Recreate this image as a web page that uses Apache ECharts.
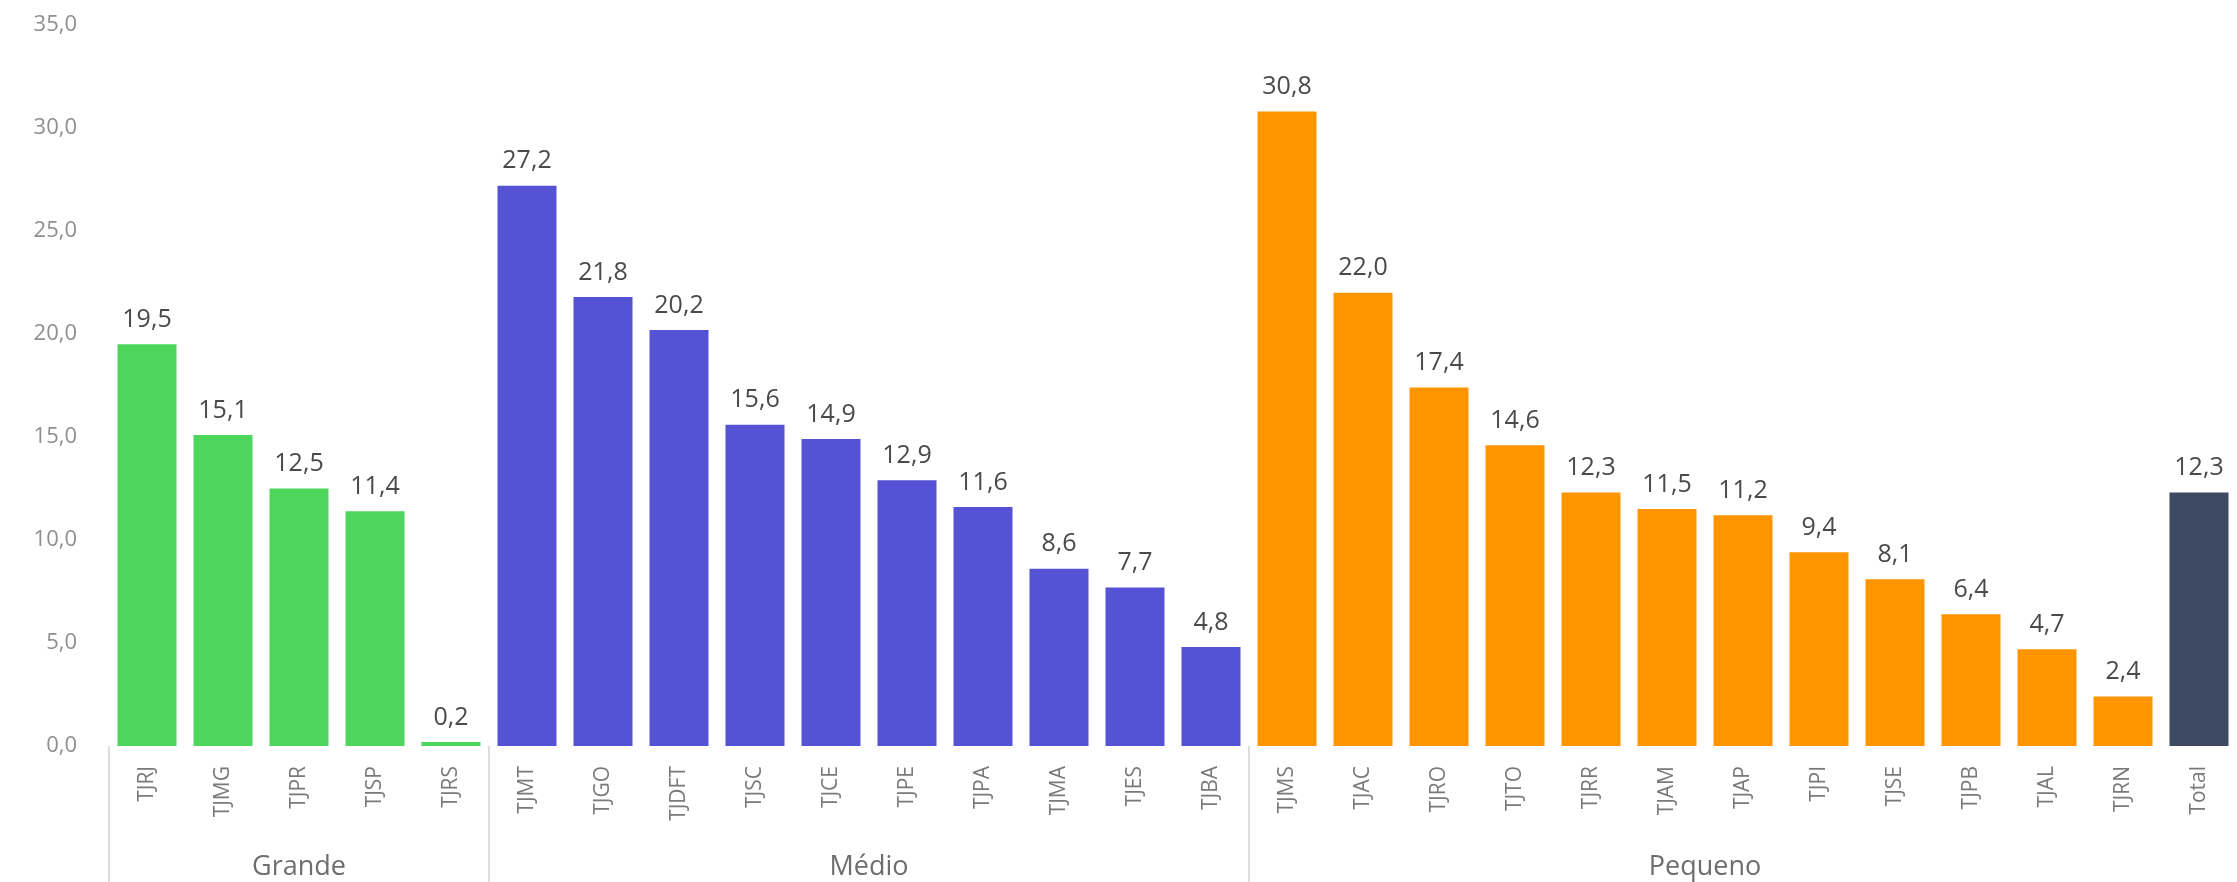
<!DOCTYPE html>
<html>
<head>
<meta charset="utf-8">
<script src="https://cdn.jsdelivr.net/npm/echarts@6/dist/echarts.min.js"></script>
<style>
html,body{margin:0;padding:0;background:#fff;}
#chart{width:2237px;height:882px;}
</style>
</head>
<body>
<div id="chart"></div>
<script>
// ---- data ----
var categories = ['TJRJ','TJMG','TJPR','TJSP','TJRS',
  'TJMT','TJGO','TJDFT','TJSC','TJCE','TJPE','TJPA','TJMA','TJES','TJBA',
  'TJMS','TJAC','TJRO','TJTO','TJRR','TJAM','TJAP','TJPI','TJSE','TJPB','TJAL','TJRN',
  'Total'];
var values = [19.5, 15.1, 12.5, 11.4, 0.2,
  27.2, 21.8, 20.2, 15.6, 14.9, 12.9, 11.6, 8.6, 7.7, 4.8,
  30.8, 22.0, 17.4, 14.6, 12.3, 11.5, 11.2, 9.4, 8.1, 6.4, 4.7, 2.4,
  12.3];
var groupNames = ['Grande', 'Médio', 'Pequeno', ''];
var groupSizes = [5, 10, 12, 1];
var groupColors = ['#4cd75c', '#5552d6', '#ff9500', '#3e4a61'];
var yTicks = [0, 5, 10, 15, 20, 25, 30, 35];

// ---- derived ----
var itemColors = [];
var boundaries = [];
var centers = [];
var centerNames = {};
var start = 0;
groupSizes.forEach(function (n, g) {
  boundaries.push(start);
  for (var i = 0; i < n; i++) itemColors.push(groupColors[g]);
  if (groupNames[g]) {
    var c = start + n / 2;
    centers.push(c);
    centerNames[c] = groupNames[g];
  }
  start += n;
});
var tickBoundaries = boundaries.slice(0, 3);

function fmt(v) { return Number(v).toFixed(1).replace('.', ','); }

var chart = echarts.init(document.getElementById('chart'));
chart.setOption({
  animation: false,
  backgroundColor: '#ffffff',
  grid: { left: 109, right: -14, top: 25, bottom: 136, containLabel: false },
  xAxis: [{
    type: 'category',
    data: categories,
    axisLine: { show: false },
    axisTick: { show: false },
    axisLabel: {
      interval: 0, rotate: 90, margin: 20,
      color: '#7a7a7a', fontSize: 21, fontFamily: 'Open Sans'
    }
  }, {
    type: 'value',
    min: 0, max: start,
    position: 'bottom',
    axisLine: { show: false },
    splitLine: { show: false },
    axisTick: {
      show: true, inside: false, length: 140,
      customValues: tickBoundaries,
      lineStyle: { color: '#dedede', width: 2 }
    },
    axisLabel: {
      show: true, margin: 108,
      customValues: centers,
      formatter: function (v) { return centerNames[v] || ''; },
      color: '#6e6e6e', fontSize: 27, fontFamily: 'Open Sans'
    }
  }],
  yAxis: {
    type: 'value',
    min: yTicks[0], max: yTicks[yTicks.length - 1], interval: 5,
    axisLine: { show: false },
    axisTick: { show: false },
    splitLine: { show: false },
    axisLabel: {
      margin: 32, color: '#8f8f8f', fontSize: 22, fontFamily: 'Open Sans',
      formatter: fmt
    }
  },
  series: [{
    type: 'bar',
    xAxisIndex: 0,
    barWidth: 59,
    data: values.map(function (v, i) {
      return { value: v, itemStyle: { color: itemColors[i] } };
    }),
    label: {
      show: true, position: 'top', distance: 12,
      color: '#4a4a4a', fontSize: 25, fontFamily: 'Open Sans',
      formatter: function (p) { return fmt(p.value); }
    }
  }]
});
</script>
</body>
</html>
